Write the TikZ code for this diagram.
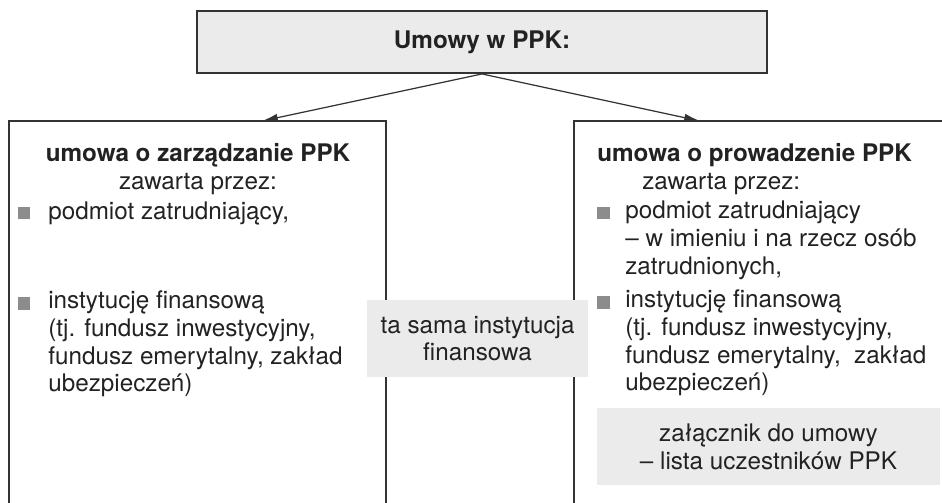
\documentclass[tikz,border=0pt]{standalone}
\usepackage{fontspec}
\setmainfont{TeX Gyre Heros}
\usepackage{xcolor}
\usepackage{tikz}
\usetikzlibrary{positioning,calc,arrows.meta}

\definecolor{boxgray}{HTML}{EBEBEB}
\definecolor{bulletgray}{HTML}{8C8C8C}
\definecolor{linegray}{HTML}{333333}
\definecolor{textgray}{HTML}{222222}

\tikzset{
    headbox/.style={draw=linegray, line width=1.1pt, fill=boxgray, minimum width=11.4cm, minimum height=1.24cm},
    greybox/.style={fill=boxgray, align=center, minimum height=1.54cm},
    frame/.style={draw=linegray, line width=0.8pt},
    bulletsq/.style={fill=bulletgray, inner sep=0pt, minimum size=0.26cm},
    itemtext/.style={anchor=west, align=left, inner sep=0pt},
    pointer/.style={draw=linegray, line width=0.7pt, -{Latex[length=9pt,width=4.5pt]}}
}

\begin{document}
\begin{tikzpicture}[x=0.02cm, y=-0.02cm, font=\fontsize{13.8}{15.8}\selectfont, text=textgray]
    \useasboundingbox (0,0) rectangle (942,503);
    \clip (0,0) rectangle (942,503);

    % Title
    \node [headbox] (umowy) at (482,42) {\textbf{Umowy w PPK:}};

    % Two contract frames (open at the bottom)
    \draw [frame] (9,560) -- (9,121) -- (386,121) -- (386,560);
    \draw [frame] (574,560) -- (574,121) -- (960,121) -- (960,560);
    \coordinate (zarzTop) at (262,121);
    \coordinate (prowTop) at (700,121);

    % Arrows
    \draw [pointer] (umowy.south) -- (zarzTop);
    \draw [pointer] (umowy.south) -- (prowTop);

    % Left frame: umowa o zarzadzanie
    \node [align=center] (zarzHead) at (198,169) {\textbf{umowa o zarządzanie PPK}\\zawarta przez:};
    \node [bulletsq] (zarzB1) at (24,213) {};
    \node [itemtext] (zarzI1) at (48,213) {podmiot zatrudniający,};
    \node [bulletsq] (zarzB2) at (24,303) {};
    \node [itemtext] (zarzI2) at (48,344) {instytucję finansową\\(tj. fundusz inwestycyjny,\\fundusz emerytalny, zakład\\ubezpieczeń)};

    % Right frame: umowa o prowadzenie
    \node [itemtext] (prowHead) at (597,169) {\textbf{umowa o prowadzenie PPK}\\\hspace*{0.9cm}zawarta przez:};
    \node [bulletsq] (prowB1) at (603,213) {};
    \node [itemtext] (prowI1) at (625,240.5) {podmiot zatrudniający\\– w imieniu i na rzecz osób\\zatrudnionych,};
    \node [bulletsq] (prowB2) at (603,302) {};
    \node [itemtext] (prowI2) at (625,343) {instytucję finansową\\(tj. fundusz inwestycyjny,\\fundusz emerytalny,\ \ zakład\\ubezpieczeń)};

    % Middle and annex
    \node [greybox, minimum width=4.42cm] (sama) at (477.5,338.5) {ta sama instytucja\\finansowa};
    \node [greybox, minimum width=6.86cm] (zalacznik) at (768.5,446.5) {załącznik do umowy\\– lista uczestników PPK};
\end{tikzpicture}
\end{document}
